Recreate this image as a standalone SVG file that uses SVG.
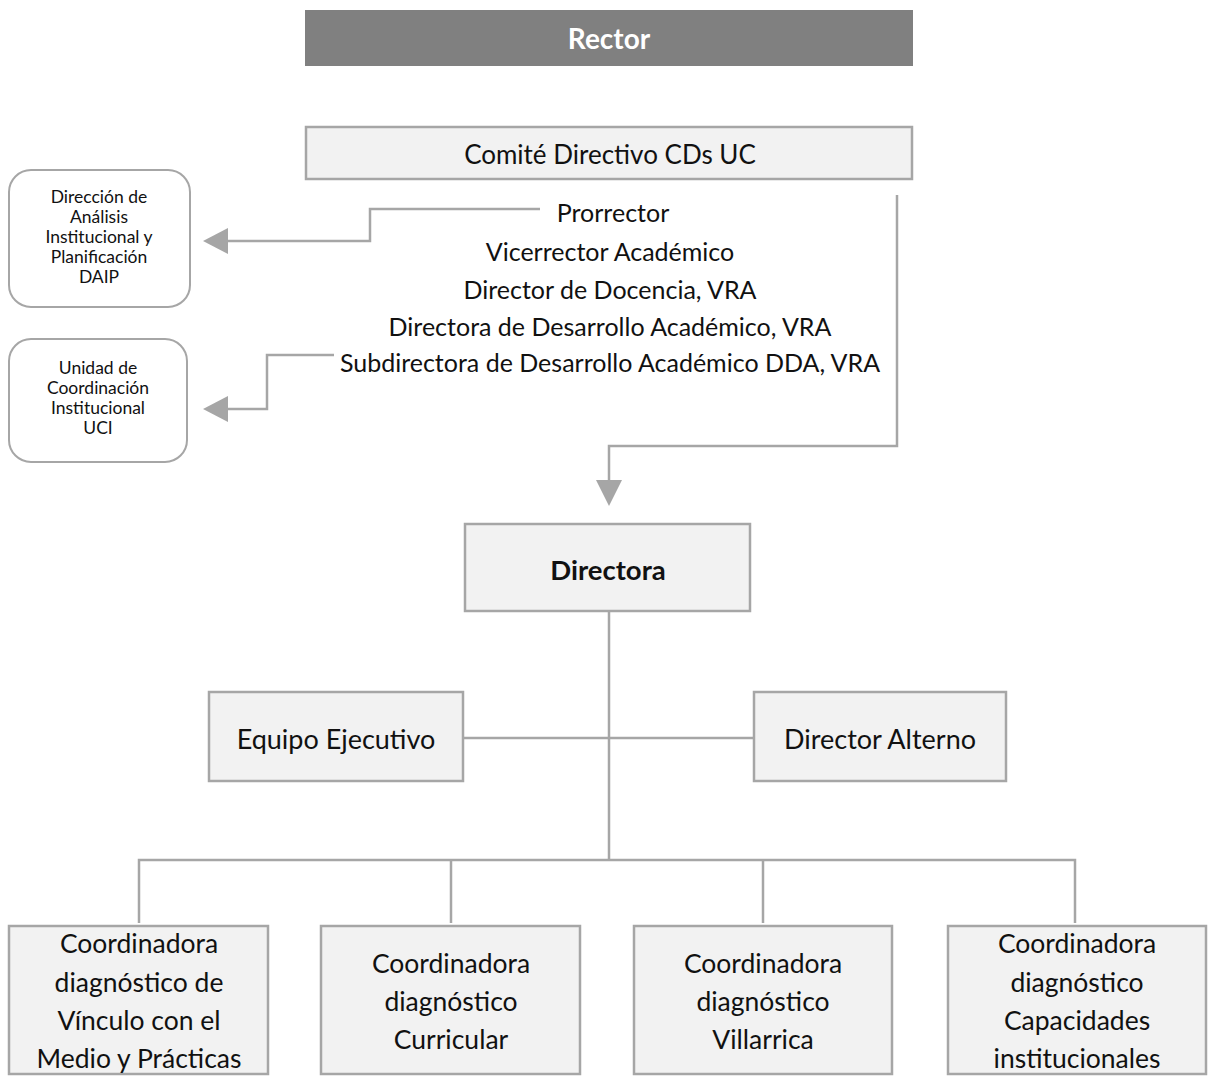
<svg xmlns="http://www.w3.org/2000/svg" width="1209" height="1076" viewBox="0 0 1209 1076">
<style>
text{font-family:Lato,"Open Sans","Liberation Sans",sans-serif;fill:#111;text-anchor:middle}
.box{fill:#f2f2f2;stroke:#a6a6a6;stroke-width:2.5}
.rbox{fill:#fff;stroke:#a6a6a6;stroke-width:2}
.ln{fill:none;stroke:#a6a6a6;stroke-width:2.5}
.t25{font-size:25px}
.t26{font-size:26.5px}
.t27{font-size:27px}
.t20{font-size:17.5px}
.b{font-weight:bold}
</style>
<rect width="1209" height="1076" fill="#fff"/>
<g id="connectors">
<polyline class="ln" points="540,209 370,209 370,241 228,241"/>
<polygon points="203,241 228,228 228,254" fill="#a6a6a6"/>
<polyline class="ln" points="334,355 267,355 267,409 228,409"/>
<polygon points="203,409 228,396 228,422" fill="#a6a6a6"/>
<polyline class="ln" points="897,195 897,446 609,446 609,480"/>
<polygon points="609,506 596,480 622,480" fill="#a6a6a6"/>
<line class="ln" x1="609" y1="611" x2="609" y2="860"/>
<line class="ln" x1="463" y1="738" x2="754" y2="738"/>
<polyline class="ln" points="139,923 139,860 1075,860 1075,923"/>
<line class="ln" x1="451" y1="860" x2="451" y2="923"/>
<line class="ln" x1="763" y1="860" x2="763" y2="923"/>
</g>
<g id="rector">
<rect x="305" y="10" width="608" height="56" fill="#808080"/>
<text x="609" y="49" class="b" style="fill:#fff;font-size:28px">Rector</text>
</g>
<g id="comite">
<rect class="box" x="306" y="127" width="606" height="52"/>
<text x="610" y="164" style="font-size:26px">Comité Directivo CDs UC</text>
</g>
<g id="miembros">
<text x="613" y="222" class="t25">Prorrector</text>
<text x="610" y="261" class="t25">Vicerrector Académico</text>
<text x="610" y="299" class="t25">Director de Docencia, VRA</text>
<text x="610" y="336" class="t25">Directora de Desarrollo Académico, VRA</text>
<text x="610" y="372" class="t25">Subdirectora de Desarrollo Académico DDA, VRA</text>
</g>
<g id="daip">
<rect class="rbox" x="9" y="170" width="181" height="137" rx="22"/>
<text x="99" y="203" class="t20">Dirección de</text>
<text x="99" y="223" class="t20">Análisis</text>
<text x="99" y="243" class="t20">Institucional y</text>
<text x="99" y="263" class="t20">Planificación</text>
<text x="99" y="283" class="t20">DAIP</text>
</g>
<g id="uci">
<rect class="rbox" x="9" y="339" width="178" height="123" rx="22"/>
<text x="98" y="374" class="t20">Unidad de</text>
<text x="98" y="394" class="t20">Coordinación</text>
<text x="98" y="414" class="t20">Institucional</text>
<text x="98" y="434" class="t20">UCI</text>
</g>
<g id="directora">
<rect class="box" x="465" y="524" width="285" height="87"/>
<text x="608" y="580" class="b" style="font-size:27.5px">Directora</text>
</g>
<g id="equipo">
<rect class="box" x="209" y="692" width="254" height="89"/>
<text x="336" y="749" class="t27">Equipo Ejecutivo</text>
</g>
<g id="alterno">
<rect class="box" x="754" y="692" width="252" height="89"/>
<text x="880" y="749" class="t27">Director Alterno</text>
</g>
<g id="coord1">
<rect class="box" x="9" y="926" width="259" height="148"/>
<text x="139" y="953" class="t26">Coordinadora</text>
<text x="139" y="992" class="t26">diagnóstico de</text>
<text x="139" y="1030" class="t26">Vínculo con el</text>
<text x="139" y="1068" class="t26">Medio y Prácticas</text>
</g>
<g id="coord2">
<rect class="box" x="321" y="926" width="259" height="148"/>
<text x="451" y="973" class="t26">Coordinadora</text>
<text x="451" y="1011" class="t26">diagnóstico</text>
<text x="451" y="1049" class="t26">Curricular</text>
</g>
<g id="coord3">
<rect class="box" x="634" y="926" width="258" height="148"/>
<text x="763" y="973" class="t26">Coordinadora</text>
<text x="763" y="1011" class="t26">diagnóstico</text>
<text x="763" y="1049" class="t26">Villarrica</text>
</g>
<g id="coord4">
<rect class="box" x="948" y="926" width="258" height="148"/>
<text x="1077" y="953" class="t26">Coordinadora</text>
<text x="1077" y="992" class="t26">diagnóstico</text>
<text x="1077" y="1030" class="t26">Capacidades</text>
<text x="1077" y="1068" class="t26">institucionales</text>
</g>
</svg>
